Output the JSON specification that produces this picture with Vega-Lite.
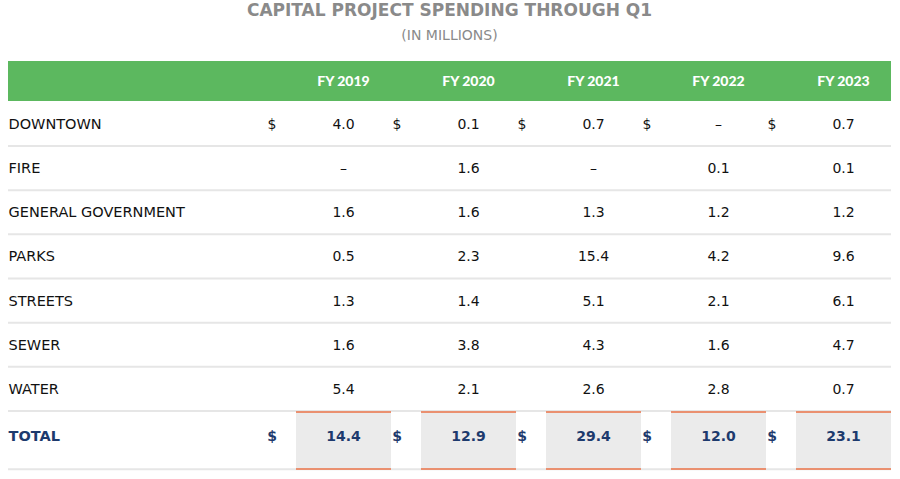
{
  "$schema": "https://vega.github.io/schema/vega-lite/v6.json",
  "width": 883,
  "height": 429,
  "autosize": {"type": "none"},
  "padding": {"left": 8, "right": 9, "top": 50, "bottom": 0},
  "background": "white",
  "title": {
    "text": "CAPITAL PROJECT SPENDING THROUGH Q1",
    "subtitle": "(IN MILLIONS)",
    "anchor": "middle",
    "frame": "group",
    "font": "DejaVu Sans",
    "fontSize": 17,
    "fontWeight": "bold",
    "color": "#8a8a8a",
    "subtitleFont": "DejaVu Sans",
    "subtitleFontSize": 14,
    "subtitleFontWeight": "normal",
    "subtitleColor": "#8a8a8a",
    "subtitlePadding": 9,
    "offset": 6
  },
  "config": {"view": {"stroke": null}},
  "data": {
    "values": [
      {"cat": "DOWNTOWN", "fy": "FY 2019", "v": 4.0},
      {"cat": "DOWNTOWN", "fy": "FY 2020", "v": 0.1},
      {"cat": "DOWNTOWN", "fy": "FY 2021", "v": 0.7},
      {"cat": "DOWNTOWN", "fy": "FY 2022", "v": null},
      {"cat": "DOWNTOWN", "fy": "FY 2023", "v": 0.7},
      {"cat": "FIRE", "fy": "FY 2019", "v": null},
      {"cat": "FIRE", "fy": "FY 2020", "v": 1.6},
      {"cat": "FIRE", "fy": "FY 2021", "v": null},
      {"cat": "FIRE", "fy": "FY 2022", "v": 0.1},
      {"cat": "FIRE", "fy": "FY 2023", "v": 0.1},
      {"cat": "GENERAL GOVERNMENT", "fy": "FY 2019", "v": 1.6},
      {"cat": "GENERAL GOVERNMENT", "fy": "FY 2020", "v": 1.6},
      {"cat": "GENERAL GOVERNMENT", "fy": "FY 2021", "v": 1.3},
      {"cat": "GENERAL GOVERNMENT", "fy": "FY 2022", "v": 1.2},
      {"cat": "GENERAL GOVERNMENT", "fy": "FY 2023", "v": 1.2},
      {"cat": "PARKS", "fy": "FY 2019", "v": 0.5},
      {"cat": "PARKS", "fy": "FY 2020", "v": 2.3},
      {"cat": "PARKS", "fy": "FY 2021", "v": 15.4},
      {"cat": "PARKS", "fy": "FY 2022", "v": 4.2},
      {"cat": "PARKS", "fy": "FY 2023", "v": 9.6},
      {"cat": "STREETS", "fy": "FY 2019", "v": 1.3},
      {"cat": "STREETS", "fy": "FY 2020", "v": 1.4},
      {"cat": "STREETS", "fy": "FY 2021", "v": 5.1},
      {"cat": "STREETS", "fy": "FY 2022", "v": 2.1},
      {"cat": "STREETS", "fy": "FY 2023", "v": 6.1},
      {"cat": "SEWER", "fy": "FY 2019", "v": 1.6},
      {"cat": "SEWER", "fy": "FY 2020", "v": 3.8},
      {"cat": "SEWER", "fy": "FY 2021", "v": 4.3},
      {"cat": "SEWER", "fy": "FY 2022", "v": 1.6},
      {"cat": "SEWER", "fy": "FY 2023", "v": 4.7},
      {"cat": "WATER", "fy": "FY 2019", "v": 5.4},
      {"cat": "WATER", "fy": "FY 2020", "v": 2.1},
      {"cat": "WATER", "fy": "FY 2021", "v": 2.6},
      {"cat": "WATER", "fy": "FY 2022", "v": 2.8},
      {"cat": "WATER", "fy": "FY 2023", "v": 0.7},
      {"cat": "TOTAL", "fy": "FY 2019", "v": 14.4},
      {"cat": "TOTAL", "fy": "FY 2020", "v": 12.9},
      {"cat": "TOTAL", "fy": "FY 2021", "v": 29.4},
      {"cat": "TOTAL", "fy": "FY 2022", "v": 12.0},
      {"cat": "TOTAL", "fy": "FY 2023", "v": 23.1}
    ]
  },
  "resolve": {"scale": {"x": "shared", "y": "shared"}},
  "layer": [
    {
      "transform": [{"filter": "datum.fy === 'FY 2019' && datum.cat !== 'TOTAL'"}],
      "mark": {"type": "rule", "color": "#e6e6e6", "strokeWidth": 2},
      "encoding": {
        "y": {
          "field": "cat",
          "type": "nominal",
          "bandPosition": 1,
          "scale": {
            "type": "band",
            "domain": ["header", "DOWNTOWN", "FIRE", "GENERAL GOVERNMENT", "PARKS", "STREETS", "SEWER", "WATER", "TOTAL"],
            "range": [7.66, 405.2],
            "paddingInner": 0,
            "paddingOuter": 0
          },
          "axis": {
            "orient": "left",
            "title": null,
            "domain": false,
            "ticks": false,
            "tickSize": 0,
            "labelPadding": 0,
            "labelAlign": "left",
            "labelBaseline": "middle",
            "labelFont": "DejaVu Sans",
            "labelFontSize": 14.5,
            "labelLimit": 300,
            "labelOverlap": false,
            "labelBound": false,
            "labelExpr": "datum.value === 'header' ? '' : datum.value",
            "labelColor": {"condition": {"test": "datum.value === 'TOTAL'", "value": "#1d3a6d"}, "value": "#111111"},
            "labelFontWeight": {"condition": {"test": "datum.value === 'TOTAL'", "value": "bold"}, "value": "normal"},
            "labelOffset": {"condition": {"test": "datum.value === 'TOTAL'", "value": 4}, "value": 1}
          }
        }
      }
    },
    {
      "transform": [{"filter": "datum.fy === 'FY 2019' && datum.cat === 'TOTAL'"}],
      "mark": {"type": "rule", "color": "#e6e6e6", "strokeWidth": 2, "yOffset": 14},
      "encoding": {
        "y": {"field": "cat", "type": "nominal", "bandPosition": 1}
      }
    },
    {
      "transform": [{"filter": "datum.fy === 'FY 2019' && datum.cat === 'TOTAL'"}],
      "mark": {"type": "bar", "color": "#5cb85f", "height": 40, "yOffset": 1.3},
      "encoding": {
        "y": {"datum": "header", "type": "nominal"}
      }
    },
    {
      "transform": [{"filter": "datum.cat === 'TOTAL'"}],
      "mark": {"type": "bar", "color": "#ea9070", "height": 59, "yOffset": 7.5},
      "encoding": {
        "x": {
          "field": "fy",
          "type": "nominal",
          "scale": {
            "type": "band",
            "domain": ["FY 2019", "FY 2020", "FY 2021", "FY 2022", "FY 2023"],
            "range": [273, 898],
            "paddingInner": 0.24,
            "paddingOuter": 0.12
          },
          "axis": null
        },
        "y": {"field": "cat", "type": "nominal"}
      }
    },
    {
      "transform": [{"filter": "datum.cat === 'TOTAL'"}],
      "mark": {"type": "bar", "color": "#ebebeb", "height": 55, "yOffset": 7.5},
      "encoding": {
        "x": {"field": "fy", "type": "nominal"},
        "y": {"field": "cat", "type": "nominal"}
      }
    },
    {
      "transform": [{"filter": "datum.cat === 'DOWNTOWN'"}],
      "mark": {"type": "text", "font": "Lato", "fontSize": 14, "fontWeight": 900, "color": "white", "dy": 2},
      "encoding": {
        "x": {"field": "fy", "type": "nominal"},
        "y": {"datum": "header", "type": "nominal"},
        "text": {"field": "fy"}
      }
    },
    {
      "transform": [{"filter": "datum.cat !== 'TOTAL'"}],
      "mark": {"type": "text", "font": "DejaVu Sans", "fontSize": 14, "color": "#111111", "dy": 1},
      "encoding": {
        "x": {"field": "fy", "type": "nominal"},
        "y": {"field": "cat", "type": "nominal"},
        "text": {"condition": {"test": "datum.v === null", "value": "–"}, "field": "v", "type": "quantitative", "format": ".1f"}
      }
    },
    {
      "transform": [{"filter": "datum.cat === 'DOWNTOWN'"}],
      "mark": {"type": "text", "font": "DejaVu Sans", "fontSize": 14, "color": "#111111", "dx": -71.5, "dy": 1},
      "encoding": {
        "x": {"field": "fy", "type": "nominal"},
        "y": {"field": "cat", "type": "nominal"},
        "text": {"value": "$"}
      }
    },
    {
      "transform": [{"filter": "datum.cat === 'TOTAL'"}],
      "mark": {"type": "text", "font": "DejaVu Sans", "fontSize": 14, "fontWeight": "bold", "color": "#1d3a6d", "dy": 4},
      "encoding": {
        "x": {"field": "fy", "type": "nominal"},
        "y": {"field": "cat", "type": "nominal"},
        "text": {"field": "v", "type": "quantitative", "format": ".1f"}
      }
    },
    {
      "transform": [{"filter": "datum.cat === 'TOTAL'"}],
      "mark": {"type": "text", "font": "DejaVu Sans", "fontSize": 14, "fontWeight": "bold", "color": "#1d3a6d", "dx": -71.5, "dy": 4},
      "encoding": {
        "x": {"field": "fy", "type": "nominal"},
        "y": {"field": "cat", "type": "nominal"},
        "text": {"value": "$"}
      }
    }
  ]
}
